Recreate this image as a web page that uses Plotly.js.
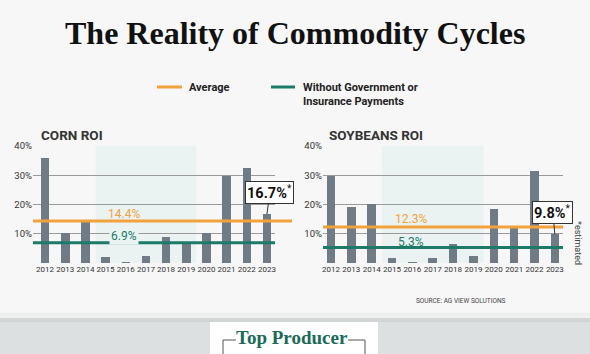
<!DOCTYPE html>
<html><head><meta charset="utf-8">
<script src="https://cdn.plot.ly/plotly-3.0.1.min.js"></script>
<style>html,body{margin:0;padding:0;background:#f7f7f7;}#chart{width:590px;height:354px;}</style>
</head><body><div id="chart"></div>
<script>
// ---- data ----
const years = ['2012','2013','2014','2015','2016','2017','2018','2019','2020','2021','2022','2023'];
const cornROI = [36.0, 10.1, 14.2, 2.0, 0.5, 2.3, 8.8, 6.8, 10.3, 29.8, 32.4, 16.7];
const soyROI = [29.8, 19.1, 20.1, 1.7, 0.3, 1.6, 6.5, 2.4, 18.4, 12.8, 31.5, 9.8];
const cornAvg = 14.4, cornWithout = 6.9;
const soyAvg = 12.3, soyWithout = 5.3;
const yTicks = [10, 20, 30, 40];
const yTickText = ['10%', '20%', '30%', '40%'];

const W = 590, H = 354;
const px = x => x / W, py = y => 1 - y / H;
const NARROW = '"Liberation Sans Narrow", "Arial Narrow", Roboto, sans-serif';
const SANS = 'Roboto, "Liberation Sans", sans-serif';
const ORANGE = '#f2a23c', GREEN = '#1d7a68', BAR = '#6f7c86', GRID = '#9a9a9a', SHADE = '#eaf3f2';

const barTrace = (vals, xa, ya) => ({
  type: 'bar', x: years, y: vals, xaxis: xa, yaxis: ya,
  marker: {color: BAR}, width: 0.42, hoverinfo: 'skip', showlegend: false
});

const xAx = (dom, rng, anchor) => ({
  domain: dom, type: 'category', range: rng, showgrid: false, zeroline: false, anchor: anchor,
  showline: false, ticks: '', tickangle: 0, automargin: false,
  tickfont: {family: NARROW, size: 8, color: '#333'}, fixedrange: true
});
const yAx = (anchor) => ({
  domain: [py(263), py(146)], range: [0, 40], tickmode: 'array', tickvals: yTicks, ticktext: yTickText,
  showgrid: true, gridcolor: GRID, gridwidth: 1, zeroline: false, showline: false, anchor: anchor,
  tickfont: {family: NARROW, size: 9.5, color: '#333'}, ticks: '', fixedrange: true, automargin: false
});

const shapes = [
  // bottom banner
  {type: 'rect', xref: 'paper', yref: 'paper', x0: 0, x1: 1, y0: py(313), y1: py(318), fillcolor: '#eeefef', line: {width: 0}, layer: 'below'},
  {type: 'rect', xref: 'paper', yref: 'paper', x0: 0, x1: 1, y0: py(318), y1: py(322), fillcolor: '#d2d5d6', line: {width: 0}, layer: 'below'},
  {type: 'rect', xref: 'paper', yref: 'paper', x0: 0, x1: 1, y0: 0, y1: py(322), fillcolor: '#dde0e1', line: {width: 0}, layer: 'below'},
  {type: 'rect', xref: 'paper', yref: 'paper', x0: px(210), x1: px(378), y0: 0, y1: py(322), fillcolor: '#ffffff', line: {width: 0}, layer: 'below'},
  {type: 'path', xref: 'paper', yref: 'paper', path: `M ${px(223)} 0 L ${px(223)} ${py(340)} L ${px(236)} ${py(340)}`, line: {color: '#555', width: 1}},
  {type: 'path', xref: 'paper', yref: 'paper', path: `M ${px(348)} ${py(340)} L ${px(365)} ${py(340)} L ${px(365)} 0`, line: {color: '#555', width: 1}},
  // shaded periods
  {type: 'rect', xref: 'x', yref: 'y', x0: 2.5, x1: 7.5, y0: 0, y1: 40, fillcolor: SHADE, line: {width: 0}, layer: 'below'},
  {type: 'rect', xref: 'x2', yref: 'y2', x0: 2.5, x1: 7.5, y0: 0, y1: 40, fillcolor: SHADE, line: {width: 0}, layer: 'below'},
  // reference lines
  {type: 'line', xref: 'paper', yref: 'y', x0: px(33), x1: px(292), y0: cornAvg, y1: cornAvg, line: {color: ORANGE, width: 3}},
  {type: 'line', xref: 'paper', yref: 'y', x0: px(33), x1: px(275), y0: cornWithout, y1: cornWithout, line: {color: GREEN, width: 3}},
  {type: 'line', xref: 'paper', yref: 'y2', x0: px(323), x1: px(563), y0: soyAvg, y1: soyAvg, line: {color: ORANGE, width: 3}},
  {type: 'line', xref: 'paper', yref: 'y2', x0: px(323), x1: px(563), y0: soyWithout, y1: soyWithout, line: {color: GREEN, width: 3}},
  // legend swatches
  {type: 'line', xref: 'paper', yref: 'paper', x0: px(157), x1: px(182), y0: py(87), y1: py(87), line: {color: ORANGE, width: 3}},
  {type: 'line', xref: 'paper', yref: 'paper', x0: px(271), x1: px(295), y0: py(87), y1: py(87), line: {color: GREEN, width: 3}}
];

const ann = (o) => Object.assign({xref: 'paper', yref: 'paper', showarrow: false}, o);
const last = years.length - 1;
const callout = (xr, yr, val, ax) => ({
  xref: xr, yref: yr, x: last, y: val, text: '<b>' + val.toFixed(1) + '%</b><sup>*</sup>',
  showarrow: true, arrowhead: 0, arrowwidth: 1, arrowcolor: '#333', ax: ax, ay: -22, standoff: 0,
  bgcolor: '#ffffff', bordercolor: '#333', borderwidth: 1, borderpad: 1,
  font: {family: NARROW, size: 14.5, color: '#111'}
});
const annotations = [
  ann({x: 0.5, y: py(33), text: '<b>The Reality of Commodity Cycles</b>', font: {family: '"Liberation Serif", serif', size: 32, color: '#111'}, xanchor: 'center', yanchor: 'middle'}),
  ann({x: px(187), y: py(87), text: '<b>Average</b>', font: {family: NARROW, size: 11, color: '#222'}, xanchor: 'left', yanchor: 'middle'}),
  ann({x: px(301), y: py(94), text: '<b>Without Government or<br>Insurance Payments</b>', font: {family: NARROW, size: 11, color: '#222'}, xanchor: 'left', yanchor: 'middle', align: 'left'}),
  ann({x: px(39), y: py(135), text: '<b>CORN ROI</b>', font: {family: SANS, size: 13.5, color: '#333'}, xanchor: 'left', yanchor: 'middle'}),
  ann({x: px(327), y: py(135), text: '<b>SOYBEANS ROI</b>', font: {family: SANS, size: 13.5, color: '#333'}, xanchor: 'left', yanchor: 'middle'}),
  ann({x: px(124), y: py(214), text: cornAvg.toFixed(1) + '%', font: {family: NARROW, size: 12, color: ORANGE}, xanchor: 'center', yanchor: 'middle'}),
  ann({x: px(124), y: py(236), text: cornWithout.toFixed(1) + '%', font: {family: NARROW, size: 12, color: GREEN}, xanchor: 'center', yanchor: 'middle', bgcolor: SHADE, borderpad: 1}),
  ann({x: px(411), y: py(219), text: soyAvg.toFixed(1) + '%', font: {family: NARROW, size: 12, color: ORANGE}, xanchor: 'center', yanchor: 'middle'}),
  ann({x: px(411), y: py(242), text: soyWithout.toFixed(1) + '%', font: {family: NARROW, size: 12, color: GREEN}, xanchor: 'center', yanchor: 'middle'}),
  callout('x', 'y', cornROI[last], 3),
  callout('x2', 'y2', soyROI[last], -2),
  ann({x: px(578), y: py(243), text: '*estimated', textangle: 90, font: {family: NARROW, size: 9, color: '#444'}, xanchor: 'center', yanchor: 'middle'}),
  ann({x: px(508), y: py(301), text: 'SOURCE: AG VIEW SOLUTIONS', font: {family: NARROW, size: 6.5, color: '#444'}, xanchor: 'right', yanchor: 'middle'}),
  ann({x: px(292), y: py(337), text: '<b>Top Producer</b>', font: {family: '"Liberation Serif", serif', size: 19, color: '#1b6a58'}, xanchor: 'center', yanchor: 'middle'}),
  ann({x: px(294), y: py(363), text: '<b>SUMMIT</b>', font: {family: SANS, size: 24, color: ORANGE}, xanchor: 'center', yanchor: 'middle'})
];

const layout = {
  width: W, height: H, margin: {l: 0, r: 0, t: 0, b: 0},
  paper_bgcolor: '#f7f7f7', plot_bgcolor: 'rgba(0,0,0,0)', showlegend: false, bargap: 0,
  xaxis: xAx([px(33), px(275)], [-0.6, 11.4], 'y'),
  yaxis: yAx('x'),
  xaxis2: xAx([px(323), px(563)], [-0.39, 11.4], 'y2'),
  yaxis2: yAx('x2'),
  shapes: shapes, annotations: annotations
};

Plotly.newPlot('chart', [barTrace(cornROI, 'x', 'y'), barTrace(soyROI, 'x2', 'y2')], layout, {staticPlot: true, displayModeBar: false});
</script></body></html>
